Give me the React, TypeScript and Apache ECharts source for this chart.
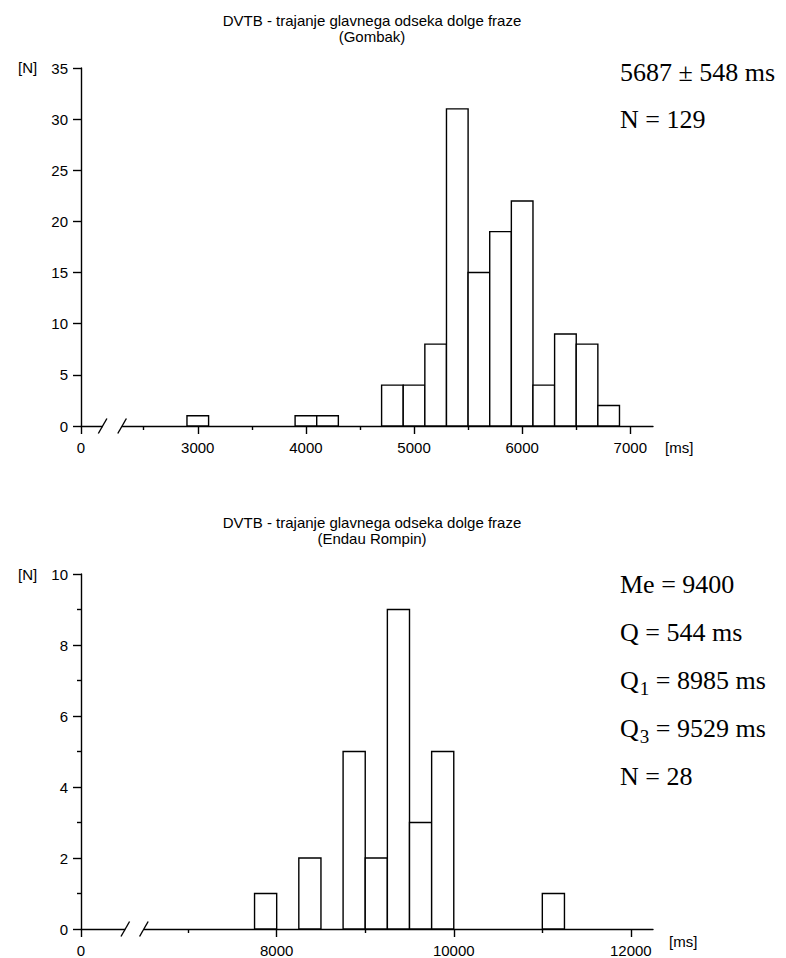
import React, { useEffect, useRef } from "react";
import * as echarts from "echarts";

// Shared chart title and the two regions
const chartTitle = "DVTB - trajanje glavnega odseka dolge fraze";
const gombakName = "(Gombak)";
const endauName = "(Endau Rompin)";

// Gombak histogram: bin starts (ms), 200 ms wide bins, counts
const gombakBinWidth = 200;
const gombakBinStarts = [2900, 3900, 4100, 4700, 4900, 5100, 5300, 5500, 5700, 5900, 6100, 6300, 6500, 6700];
const gombakCounts = [1, 1, 1, 4, 4, 8, 31, 15, 19, 22, 4, 9, 8, 2];

// Endau Rompin histogram: bin starts (ms), 250 ms wide bins, counts
const endauBinWidth = 250;
const endauBinStarts = [7750, 8250, 8750, 9000, 9250, 9500, 9750, 11000];
const endauCounts = [1, 2, 5, 2, 9, 3, 5, 1];

// Broken x axes: the leftmost value is labelled "0"
const gombakRange = [1920, 7210];
const gombakMajorTicks = [3000, 4000, 5000, 6000, 7000];
const gombakMinorTicks = [2500, 3500, 4500, 5500, 6500];
const gombakBreak = [2120, 2300];

const endauRange = [5790, 12250];
const endauMajorTicks = [8000, 10000, 12000];
const endauMinorTicks = [7000, 9000, 11000];
const endauBreak = [6290, 6500];

// Summary statistics
const gombakStats = ["5687 ± 548 ms", "N = 129"];
const endauStats = [
  "{t|Me = 9400}",
  "{t|Q = 544 ms}",
  "{t|Q}{s|1}{t| = 8985 ms}",
  "{t|Q}{s|3}{t| = 9529 ms}",
  "{t|N = 28}",
];

const SANS = "Liberation Sans, Arial, sans-serif";
const SERIF = "Liberation Serif, Times New Roman, serif";
const INK = "#000";
const LW = 1.4;

function histogram(gridIndex: number, starts: number[], counts: number[], width: number) {
  return {
    type: "custom",
    xAxisIndex: gridIndex * 2,
    yAxisIndex: gridIndex,
    clip: false,
    data: starts.map((s, i) => [s, s + width, counts[i]]),
    encode: { x: [0, 1], y: 2 },
    renderItem: (_p: any, api: any) => {
      const a = api.coord([api.value(0), 0]);
      const b = api.coord([api.value(1), api.value(2)]);
      return {
        type: "rect",
        shape: { x: a[0], y: b[1], width: b[0] - a[0], height: a[1] - b[1] },
        style: { fill: "#fff", stroke: INK, lineWidth: LW },
      };
    },
  };
}

function axisBreak(gridIndex: number, brk: number[]) {
  return {
    type: "custom",
    xAxisIndex: gridIndex * 2,
    yAxisIndex: gridIndex,
    clip: false,
    z: 10,
    silent: true,
    data: [[brk[0], brk[1]]],
    encode: { x: [0, 1] },
    renderItem: (_p: any, api: any) => {
      const a = api.coord([api.value(0), 0]);
      const b = api.coord([api.value(1), 0]);
      const slash = (p: number[]) => ({
        type: "line",
        shape: { x1: p[0] - 4.3, y1: p[1] + 7.5, x2: p[0] + 4.3, y2: p[1] - 7.5 },
        style: { stroke: INK, lineWidth: LW },
      });
      return {
        type: "group",
        children: [
          {
            type: "rect",
            shape: { x: a[0], y: a[1] - 2, width: b[0] - a[0], height: 4 },
            style: { fill: "#fff" },
          },
          slash(a),
          slash(b),
        ],
      };
    },
  };
}

function majorX(gridIndex: number, range: number[], ticks: number[]) {
  const values = [range[0], ...ticks];
  return {
    type: "value",
    gridIndex,
    position: "bottom",
    min: range[0],
    max: range[1],
    splitLine: { show: false },
    axisLine: { show: true, lineStyle: { color: INK, width: LW } },
    axisTick: { show: true, length: 8, customValues: values, lineStyle: { color: INK, width: LW } },
    axisLabel: {
      customValues: values,
      margin: 14,
      color: INK,
      fontSize: 15,
      fontFamily: SANS,
      formatter: (v: number) => (v === range[0] ? "0" : String(v)),
    },
  };
}

function minorX(gridIndex: number, range: number[], ticks: number[]) {
  return {
    type: "value",
    gridIndex,
    position: "bottom",
    min: range[0],
    max: range[1],
    splitLine: { show: false },
    axisLine: { show: false },
    axisTick: { show: true, length: 4, customValues: ticks, lineStyle: { color: INK, width: LW } },
    axisLabel: { show: false },
  };
}

function yAxis(gridIndex: number, max: number, interval: number, minor: boolean) {
  return {
    type: "value",
    gridIndex,
    min: 0,
    max,
    interval,
    splitLine: { show: false },
    axisLine: { show: true, lineStyle: { color: INK, width: LW } },
    axisTick: { show: true, length: 8, lineStyle: { color: INK, width: LW } },
    minorTick: { show: minor, splitNumber: 2, length: 4, lineStyle: { color: INK, width: LW } },
    axisLabel: { margin: 13, color: INK, fontSize: 15, fontFamily: SANS },
  };
}

export default function App() {
  const ref = useRef<HTMLDivElement>(null);

  useEffect(() => {
    if (!ref.current) return;
    const chart = echarts.init(ref.current, undefined, { renderer: "svg" });

    const titleStyle = { fontSize: 15, fontWeight: "normal", color: INK, fontFamily: SANS };
    const serif = { fontFamily: SERIF, fontSize: 26, fill: INK };

    chart.setOption({
      animation: false,
      backgroundColor: "#fff",
      title: [
        {
          text: chartTitle,
          subtext: gombakName,
          left: 367,
          top: 8,
          textAlign: "center",
          itemGap: 1,
          textStyle: titleStyle,
          subtextStyle: titleStyle,
        },
        {
          text: chartTitle,
          subtext: endauName,
          left: 367,
          top: 510,
          textAlign: "center",
          itemGap: 1,
          textStyle: titleStyle,
          subtextStyle: titleStyle,
        },
      ],
      grid: [
        { left: 81, right: 133, top: 68, height: 358 },
        { left: 81, right: 133, top: 574, height: 357 },
      ],
      xAxis: [
        majorX(0, gombakRange, gombakMajorTicks),
        minorX(0, gombakRange, gombakMinorTicks),
        majorX(1, endauRange, endauMajorTicks),
        minorX(1, endauRange, endauMinorTicks),
      ],
      yAxis: [yAxis(0, 35, 5, false), yAxis(1, 10, 2, true)],
      series: [
        histogram(0, gombakBinStarts, gombakCounts, gombakBinWidth),
        histogram(1, endauBinStarts, endauCounts, endauBinWidth),
        axisBreak(0, gombakBreak),
        axisBreak(1, endauBreak),
      ],
      graphic: [
        { type: "text", x: 18, y: 67, style: { text: "[N]", font: `15px ${SANS}`, fill: INK, verticalAlign: "middle" } },
        { type: "text", x: 18, y: 574, style: { text: "[N]", font: `15px ${SANS}`, fill: INK, verticalAlign: "middle" } },
        { type: "text", x: 665, y: 447, style: { text: "[ms]", font: `15px ${SANS}`, fill: INK, verticalAlign: "middle" } },
        { type: "text", x: 669, y: 941, style: { text: "[ms]", font: `15px ${SANS}`, fill: INK, verticalAlign: "middle" } },
        ...gombakStats.map((t, i) => ({
          type: "text",
          x: 620,
          y: 72 + i * 47,
          style: { text: t, ...serif, verticalAlign: "middle" },
        })),
        ...endauStats.map((t, i) => ({
          type: "text",
          x: 620,
          y: 584 + i * 48,
          style: {
            text: t,
            verticalAlign: "middle",
            rich: {
              t: { ...serif, lineHeight: 30, verticalAlign: "middle" },
              s: {
                fontFamily: SERIF,
                fontSize: 19,
                fill: INK,
                lineHeight: 30,
                verticalAlign: "middle",
                padding: [16, 0, 0, 1],
              },
            },
          },
        })),
      ],
    });

    return () => chart.dispose();
  }, []);

  return (
    <div
      ref={ref}
      style={{ position: "fixed", left: 0, top: 0, width: 786, height: 958, background: "#fff" }}
    />
  );
}
